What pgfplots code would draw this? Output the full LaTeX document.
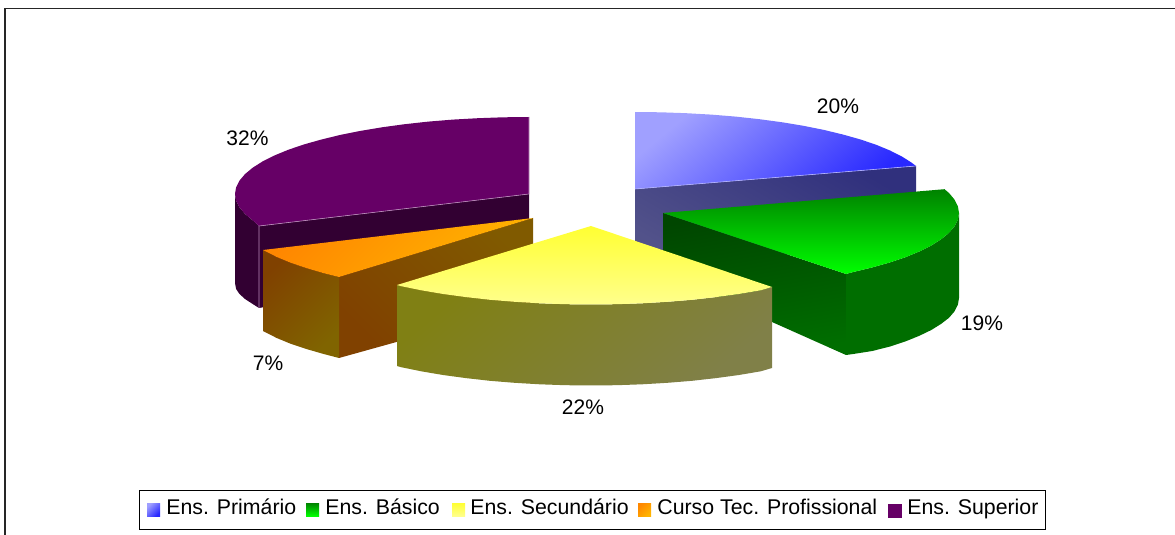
\documentclass[border=0pt]{standalone}
\usepackage{fontspec}
\setmainfont{Liberation Sans}
\usepackage{pgfplots}
\pgfplotsset{compat=1.18}

% shaded face: #1 first colour, #2 second colour, #3 angle
\tikzset{face/.style n args={3}{draw=none,mark=none,left color=#1,right color=#2,shading angle=#3},
  lab/.style={font=\fontsize{10.5}{12}\selectfont,inner sep=0pt,text=black},
  leg/.style={font=\fontsize{10.65}{12}\selectfont,inner sep=0pt,anchor=base west,text=black}}

\definecolor{bluelt}{RGB}{160,160,255}
\definecolor{bluedk}{RGB}{40,40,255}
\definecolor{bluesd1}{RGB}{82,82,138}
\definecolor{bluesd2}{RGB}{48,48,125}
\definecolor{grntop}{RGB}{0,130,0}
\definecolor{grnlt}{RGB}{0,255,0}
\definecolor{grnsd1}{RGB}{0,70,0}
\definecolor{grnsd2}{RGB}{0,110,0}
\definecolor{yeltop}{RGB}{255,255,50}
\definecolor{yellt}{RGB}{255,255,140}
\definecolor{yelsd1}{RGB}{128,128,20}
\definecolor{yelsd2}{RGB}{128,128,72}
\definecolor{orgtop}{RGB}{255,135,0}
\definecolor{orglt}{RGB}{255,180,0}
\definecolor{orgsd1}{RGB}{128,65,0}
\definecolor{orgsd2}{RGB}{128,100,0}
\definecolor{orgsd3}{RGB}{128,90,0}
\definecolor{purtop}{RGB}{102,0,102}
\definecolor{pursd}{RGB}{50,0,50}

\begin{document}
\begin{tikzpicture}
\begin{axis}[
  scale only axis,
  width=587.5pt,height=267.5pt,
  xmin=0,xmax=1175,ymin=0,ymax=535,
  y dir=reverse,
  ticks=none,
  axis line style={draw=none},
  clip=true
]
% chart frame, only left and top show
\addplot[black!85,line width=0.9pt,mark=none] coordinates {(5,535) (5,8.5) (1175,8.5)};

% Ens. Primario
\addplot[face={bluesd1}{bluesd2}{150}] coordinates {(635,189) (916,166) (916,244) (635,267)} --cycle;
\addplot[face={bluelt}{bluedk}{40}] coordinates {(635,112) (660.7,112.3) (686.1,113.2) (711.2,114.6) (735.7,116.6) (759.5,119.2) (782.3,122.3) (803.9,125.9) (824.3,130) (843.2,134.6) (860.6,139.5) (876.2,144.8) (890,150.5) (901.9,156.5) (911.7,162.7) (916,166) (635,189)} --cycle;
\addplot[white!70!blue,line width=0.3pt,mark=none] coordinates {(635,189) (916,166)};

% Ens. Superior
\addplot[fill=pursd,draw=none,mark=none] coordinates {(259,226) (529,194) (529,260) (259,308)} --cycle;
\addplot[fill=pursd,draw=none,mark=none] coordinates {(235,194) (236.1,200.7) (239.5,207.4) (245,213.9) (252.7,220.3) (259,226) (259,308) (252.7,304) (245,299) (239.5,294) (236.1,289) (235,283)} --cycle;
\addplot[fill=purtop,draw=none,mark=none] coordinates {(529,117) (503.4,117.3) (478,118.2) (452.9,119.6) (428.4,121.6) (404.7,124.2) (382,127.3) (360.4,130.9) (340,135) (321.1,139.6) (303.8,144.5) (288.2,149.8) (274.4,155.5) (262.5,161.5) (252.7,167.7) (245,174.1) (239.5,180.6) (236.1,187.3) (235,194) (236.1,200.7) (239.5,207.4) (245,213.9) (252.7,220.3) (259,226) (529,194)} --cycle;
\addplot[white!55!purtop,line width=0.3pt,mark=none] coordinates {(529,117) (529,194) (259,226) (259,308)};

% Curso Tec. Profissional
\addplot[face={orgsd1}{orgsd3}{135}] coordinates {(339,277) (533,218) (533,304) (339,358)} --cycle;
\addplot[face={orgsd1}{orgsd2}{45}] coordinates {(263,250) (276.7,257) (290.5,262.7) (306.3,268.1) (323.7,273.2) (339,277) (339,358) (323.7,354) (306.3,349) (290.5,343.7) (276.7,338) (263,331)} --cycle;
\addplot[face={orgtop}{orglt}{45}] coordinates {(263,250) (276.7,257) (290.5,262.7) (306.3,268.1) (323.7,273.2) (339,277) (533,218)} --cycle;

% Ens. Basico
\addplot[face={grnsd1}{grnsd2}{10}] coordinates {(663,213) (846,274) (846,355) (772,322) (663,275)} --cycle;
\addplot[fill=grnsd2,draw=none,mark=none] coordinates {(846,274) (853.3,272) (872.3,267.4) (889.7,262.5) (905.5,257.2) (919.3,251.5) (931.3,245.5) (941.1,239.3) (948.9,232.9) (954.5,226.4) (957.9,219.7) (959,213) (959,298) (957.9,304.7) (954.5,311.4) (948.9,317.9) (941.1,323.9) (931.3,330) (919.3,335.8) (905.5,341.4) (889.7,346.6) (872.3,351) (853.3,354) (846,355)} --cycle;
\addplot[face={grntop}{grnlt}{0}] coordinates {(663,213) (944.5,189.2) (949,193) (954.5,199.6) (957.9,206.3) (959,213) (957.9,219.7) (954.5,226.4) (948.9,232.9) (941.1,239.3) (931.3,245.5) (919.3,251.5) (905.5,257.2) (889.7,262.5) (872.3,267.4) (853.3,272) (846,274)} --cycle;

% Ens. Secundario
\addplot[face={yelsd1}{yelsd2}{40}] coordinates {(397,285) (400.7,286.1) (421.2,290.3) (443,294) (465.9,297.1) (489.8,299.8) (514.4,301.8) (539.6,303.3) (565.2,304.2) (591,304.5) (616.8,304.2) (642.4,303.3) (667.6,301.8) (692.2,299.8) (716.1,297.1) (739,294) (760.8,290.3) (772,287) (772,368) (760.8,371.3) (739,375) (716.1,378.1) (692.2,380.8) (667.6,382.8) (642.4,384.3) (616.8,385.2) (591,385.5) (565.2,385.2) (539.6,384.3) (514.4,382.8) (489.8,380.8) (465.9,378.1) (443,375) (421.2,371.3) (400.7,367.1) (397,366)} --cycle;
\addplot[face={yeltop}{yellt}{0}] coordinates {(591,226) (772,287) (760.8,290.3) (739,294) (716.1,297.1) (692.2,299.8) (667.6,301.8) (642.4,303.3) (616.8,304.2) (591,304.5) (565.2,304.2) (539.6,303.3) (514.4,301.8) (489.8,299.8) (465.9,297.1) (443,294) (421.2,290.3) (400.7,286.1) (397,285)} --cycle;

% legend box and swatches
\addplot[black,line width=0.5pt,mark=none] coordinates {(139,490) (1045,490) (1045,529) (139,529)} --cycle;
\addplot[face={bluelt}{bluedk}{45}] coordinates {(147,503) (160,503) (160,516) (147,516)} --cycle;
\addplot[face={grntop}{grnlt}{0}] coordinates {(306,503) (319,503) (319,516) (306,516)} --cycle;
\addplot[face={yeltop}{yellt}{0}] coordinates {(452,503) (465,503) (465,516) (452,516)} --cycle;
\addplot[face={orgtop}{orglt}{45}] coordinates {(638,503) (651,503) (651,516) (638,516)} --cycle;
\addplot[fill=purtop,draw=none,mark=none] coordinates {(888,504) (902,504) (902,518) (888,518)} --cycle;

\node[lab] at (axis cs:838,106) {20\%};
\node[lab] at (axis cs:982,323) {19\%};
\node[lab] at (axis cs:583,407) {22\%};
\node[lab] at (axis cs:268,363) {7\%};
\node[lab] at (axis cs:247.5,138) {32\%};

\node[leg] at (axis cs:166,515) {Ens. Primário};
\node[leg] at (axis cs:325,515) {Ens. Básico};
\node[leg] at (axis cs:470,515) {Ens. Secundário};
\node[leg] at (axis cs:657,515) {Curso Tec. Profissional};
\node[leg] at (axis cs:907,515) {Ens. Superior};
\end{axis}
\end{tikzpicture}
\end{document}
